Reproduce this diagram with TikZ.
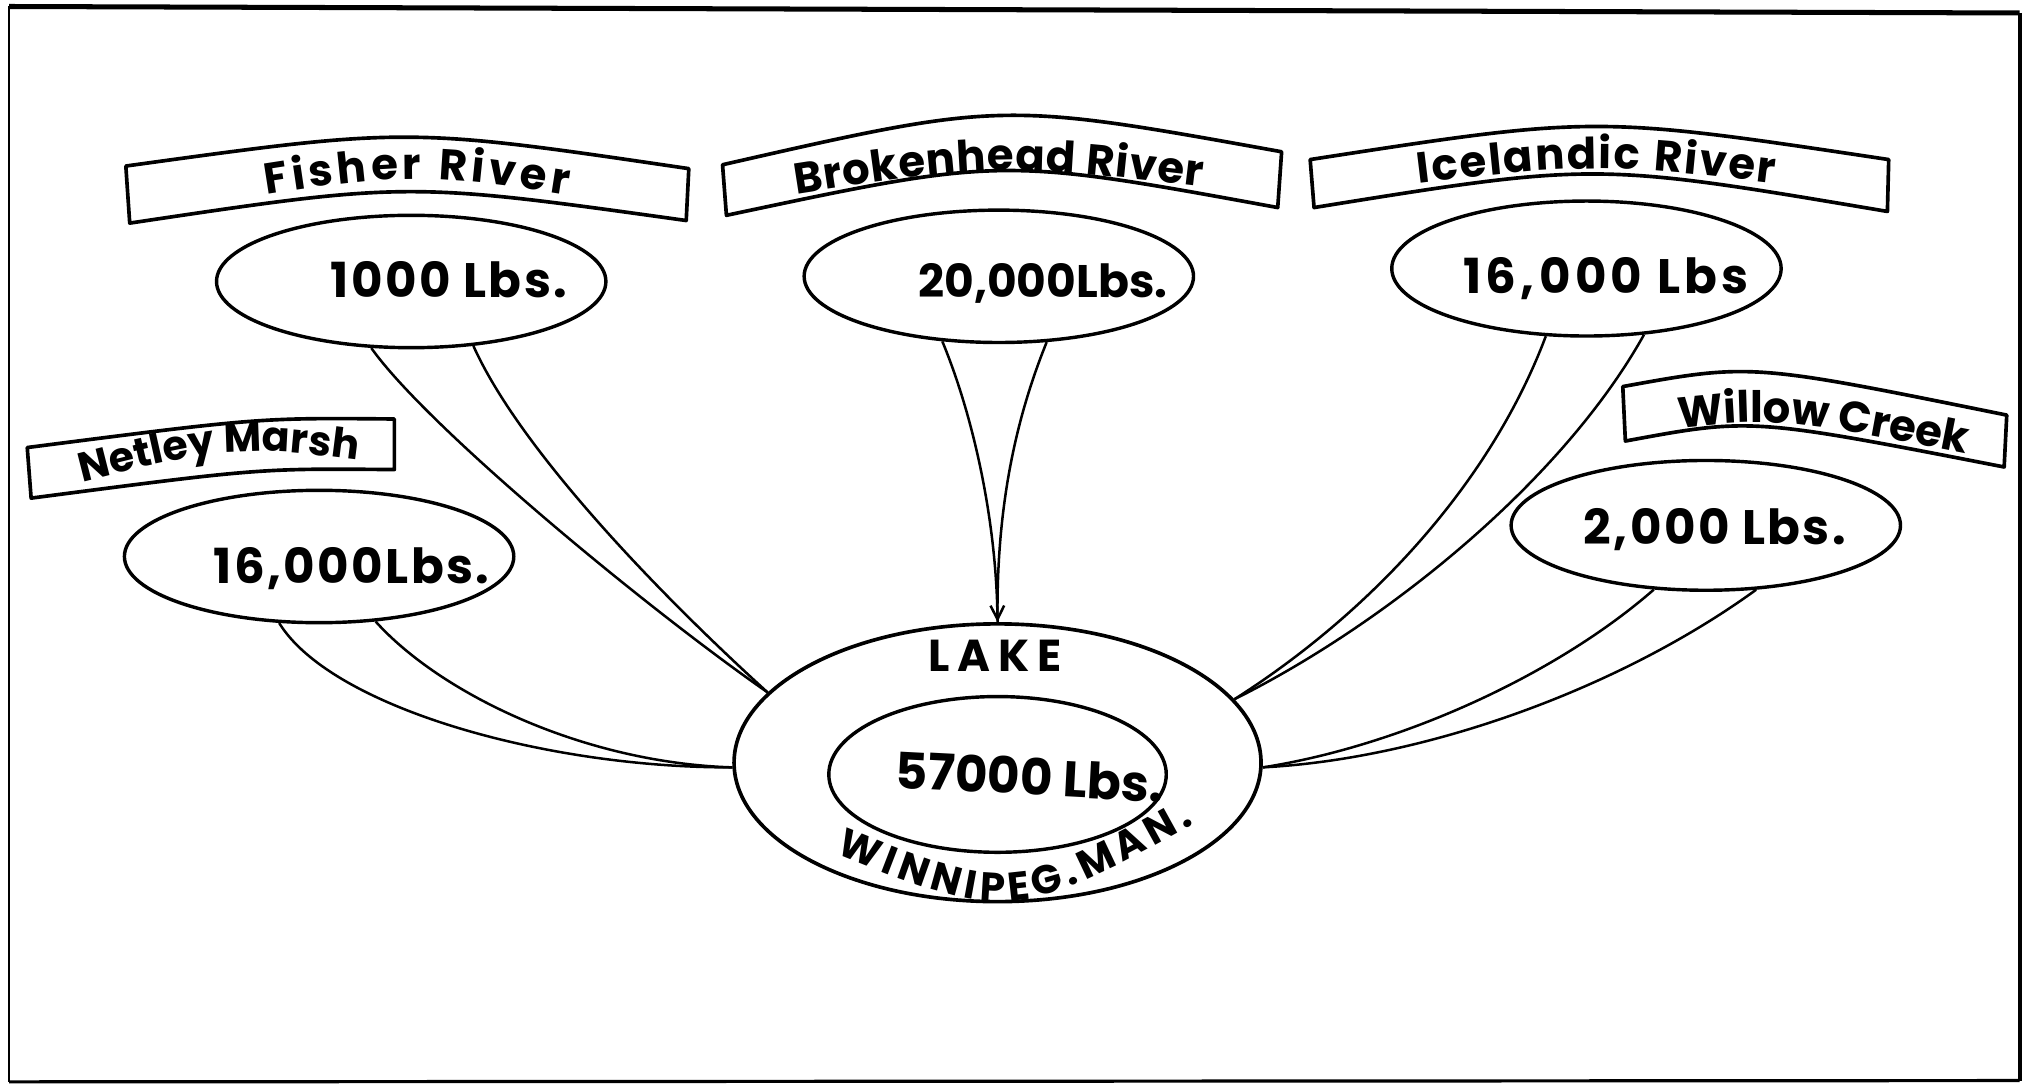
\documentclass[tikz,border=0pt]{standalone}
\usepackage{fontspec}
\setmainfont{Poppins}
\usetikzlibrary{shapes.geometric,decorations.text,arrows.meta}
% banner lettering: bold, with a little extra space set before every glyph
\newcommand\bannerfont[1]{\fontsize{9.5}{11}\selectfont\bfseries\kern#1}
\newcommand\lakefont{\fontsize{8.8}{11}\selectfont\bfseries}
\begin{document}
\begin{tikzpicture}[x=0.01cm,y=-0.01cm,
  pool/.style={ellipse,draw,line width=0.75pt,inner sep=0pt,minimum width=3cm,minimum height=1.02cm},
  banner/.style={draw,line width=0.8pt,line join=round},
  channel/.style={draw,line width=0.55pt},
  amount/.style={anchor=base,inner sep=0pt,font=\fontsize{10.6}{12}\selectfont\bfseries\addfontfeature{LetterSpace=5}},
  bannertext/.style={decorate,decoration={text along path,text align=center,text={#1}}}
]
\useasboundingbox (0,0) rectangle (1568,836);

% outer frame
\draw[line width=1.1pt] (7,5) -- (1557,10);
\draw[line width=0.5pt] (7,5) -- (7,834);
\draw[line width=0.9pt] (1557,10) -- (1557,833);
\draw[line width=0.7pt] (7,834) -- (1557,833);

% curved name banners
\draw[banner] (97,128) .. controls (314,98) .. (531,130) -- (529,170) .. controls (314,140) .. (100,172) -- cycle;
\path[bannertext={|\bannerfont{0.9pt}|Fisher River}] (150,159) .. controls (320,131) .. (490,159);

\draw[banner] (557,127) .. controls (772,78) .. (988,117) -- (985,160) .. controls (772,121) .. (560,166) -- cycle;
\path[bannertext={|\bannerfont{0.2pt}|Brokenhead River}] (580,155) .. controls (770,125) .. (960,148);

\draw[banner] (1010,123) .. controls (1230,89) .. (1456,123) -- (1455,163) .. controls (1230,125) .. (1013,160) -- cycle;
\path[bannertext={|\bannerfont{0.45pt}|Icelandic River}] (1040,148) .. controls (1230,124) .. (1420,148);

\draw[banner] (1251,298) .. controls (1350,280) .. (1547,320) -- (1545,360) .. controls (1350,322) .. (1253,340) -- cycle;
\path[bannertext={|\bannerfont{0pt}|Willow Creek}] (1270,333) .. controls (1370,321) .. (1540,355);

\draw[banner] (21,345) .. controls (200,322) .. (304,323) -- (304,362) .. controls (200,361) .. (24,384) -- cycle;
\path[bannertext={|\fontsize{9}{11}\selectfont\bfseries|Netley Marsh}] (40,378) .. controls (180,342) .. (300,358);

% source ellipses and their amounts
\node[pool] (fisher) at (317,217) {};
\node[amount] (fisherq) at (346,229) {1000 Lbs.};
\node[pool] (brokenhead) at (770,213) {};
\node[amount,font=\fontsize{10}{12}\selectfont\bfseries] (brokenheadq) at (804,229) {20,000Lbs.};
\node[pool,minimum height=1.04cm] (icelandic) at (1223,207) {};
\node[amount,font=\fontsize{10.6}{12}\selectfont\bfseries\addfontfeature{LetterSpace=9}] (icelandicq) at (1238,226) {16,000 Lbs};
\node[pool,minimum height=1cm] (willow) at (1315,405) {};
\node[amount] (willowq) at (1322,420) {2,000 Lbs.};
\node[pool] (netley) at (246,429) {};
\node[amount] (netleyq) at (271,450) {16,000Lbs.};

% the lake
\node[ellipse,draw,line width=0.8pt,inner sep=0pt,minimum width=4.06cm,minimum height=2.14cm] (lake) at (769,588) {};
\node[ellipse,draw,line width=0.75pt,inner sep=0pt,minimum width=2.6cm,minimum height=1.2cm] (lakein) at (769,597) {};
\node[anchor=base,inner sep=0pt,font=\fontsize{9.8}{11}\selectfont\bfseries\addfontfeature{LetterSpace=18}] (laketitle) at (767,518) {LAKE};
\node[amount,rotate=-3,font=\fontsize{11}{12}\selectfont\bfseries] (lakeq) at (793,613) {57000 Lbs.};
\path[decorate,decoration={text along path,text align=center,text={|\lakefont\kern1.1pt|WINNIPEG.MAN.}}] (620,648) .. controls (780,714) .. (940,624);

% channels into the lake
\draw[channel] (fisher.-121.5) .. controls (330,330) and (500,470) .. (lake.163.5);
\draw[channel] (fisher.-46.7) .. controls (400,345) and (505,455) .. (lake.163.5);

\draw[channel] (netley.-121.8) .. controls (255,545) and (420,592) .. (lake.181);
\draw[channel] (netley.-49.4) .. controls (340,535) and (450,588) .. (lake.181);

\draw[channel,-{Straight Barb[length=3pt,width=3pt]}] (brokenhead.-131.3) .. controls (750,320) and (768,400) .. (lake.90);
\draw[channel] (brokenhead.-54) .. controls (780,330) and (768,400) .. (lake.90);

\draw[channel] (icelandic.-121.3) .. controls (1150,370) and (1060,470) .. (lake.15.8);
\draw[channel] (icelandic.-49.9) .. controls (1205,370) and (1070,480) .. (lake.15.8);

\draw[channel] (willow.-129.7) .. controls (1200,520) and (1080,575) .. (lake.-1);
\draw[channel] (willow.-52.7) .. controls (1250,530) and (1100,585) .. (lake.-1);
\end{tikzpicture}
\end{document}
